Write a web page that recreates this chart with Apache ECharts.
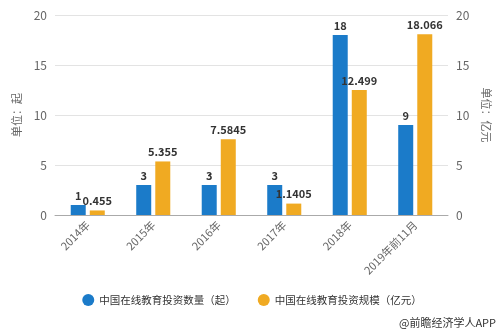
<!DOCTYPE html>
<html><head><meta charset="utf-8">
<script src="https://cdn.jsdelivr.net/npm/echarts@6/dist/echarts.min.js"></script>
<style>html,body{margin:0;padding:0;background:#fff}#c{width:504px;height:334px}</style>
</head><body><div id="c"></div>
<script>
const categories = ['2014年','2015年','2016年','2017年','2018年','2019年前11月'];
const countValues = [1, 3, 3, 3, 18, 9];
const scaleValues = [0.455, 5.355, 7.5845, 1.1405, 12.499, 18.066];
const seriesNames = ['中国在线教育投资数量（起）','中国在线教育投资规模（亿元）'];
const leftAxisName = '单位：起';
const rightAxisName = '单位：亿元';
const sourceText = '@前瞻经济学人APP';

const font = '"Noto Sans CJK SC", "Microsoft YaHei", sans-serif';
const chart = echarts.init(document.getElementById('c'), null, {renderer:'canvas'});
const labelStyle = {show:true, position:'top', color:'#333', fontWeight:'bold', fontSize:11, fontFamily:font, distance:4};
chart.setOption({
  animation:false,
  textStyle:{fontFamily:font},
  grid:{left:55, right:56, top:15, bottom:119},
  legend:{bottom:23, left:'center', itemWidth:12, itemHeight:12, itemGap:22, icon:'circle',
    textStyle:{color:'#333', fontSize:10.5, fontFamily:font}},
  graphic:[{type:'text', right:8, bottom:6, style:{text:sourceText, fill:'#333', fontSize:11, fontFamily:font}}],
  xAxis:{type:'category', data:categories,
    axisLine:{lineStyle:{color:'#aaa'}}, axisTick:{alignWithLabel:true, lineStyle:{color:'#aaa'}},
    axisLabel:{rotate:45, color:'#666', fontSize:11, interval:0, margin:8}},
  yAxis:[
    {type:'value', min:0, max:20, interval:5, name:leftAxisName, nameLocation:'middle', nameGap:33, nameRotate:90,
     nameTextStyle:{color:'#666', fontSize:11},
     axisLabel:{color:'#666', fontSize:12}, axisLine:{show:false}, axisTick:{show:false},
     splitLine:{lineStyle:{color:'#e3e3e3'}}},
    {type:'value', min:0, max:20, interval:5, name:rightAxisName, nameLocation:'middle', nameGap:30, nameRotate:-90,
     nameTextStyle:{color:'#666', fontSize:11},
     axisLabel:{color:'#666', fontSize:12}, axisLine:{show:false}, axisTick:{show:false},
     splitLine:{show:false}}
  ],
  series:[
    {name:seriesNames[0], type:'bar', data:countValues, yAxisIndex:0, barWidth:15, barGap:'27%',
     itemStyle:{color:'#1b7bc9'}, label:labelStyle},
    {name:seriesNames[1], type:'bar', data:scaleValues, yAxisIndex:1, barWidth:15,
     itemStyle:{color:'#f0aa22'}, label:labelStyle}
  ]
});
</script></body></html>
